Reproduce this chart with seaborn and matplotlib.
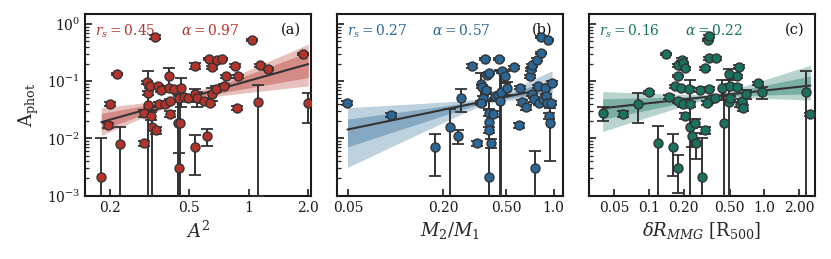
import numpy as np
import matplotlib
matplotlib.use("Agg")
import matplotlib.pyplot as plt
import seaborn as sns

# ---------------------------
# DATA
# ---------------------------
# (a) A_phot vs A^2
a_x = [0.180, 0.194, 0.200, 0.217, 0.225, 0.296, 0.297, 0.305, 0.310, 0.310,
       0.317, 0.320, 0.324, 0.337, 0.340, 0.350, 0.361, 0.354, 0.376, 0.398,
       0.398, 0.402, 0.400, 0.419, 0.439, 0.444, 0.452, 0.457, 0.444, 0.472,
       0.494, 0.535, 0.535, 0.535, 0.545, 0.597, 0.614, 0.631, 0.638, 0.656,
       0.656, 0.683, 0.690, 0.733, 0.748, 0.769, 0.857, 0.868, 0.882, 1.044,
       1.120, 1.135, 1.247, 1.880, 2.000]
a_y = [0.0021, 0.017, 0.040, 0.136, 0.0080, 0.028, 0.0083, 0.096, 0.063, 0.038,
       0.082, 0.025, 0.016, 0.59, 0.014, 0.082, 0.070, 0.040, 0.040, 0.122,
       0.076, 0.027, 0.046, 0.072, 0.019, 0.0030, 0.019, 0.076, 0.052, 0.053,
       0.052, 0.187, 0.059, 0.0070, 0.050, 0.046, 0.011, 0.244, 0.042, 0.175,
       0.061, 0.074, 0.240, 0.245, 0.084, 0.122, 0.187, 0.034, 0.122, 0.53,
       0.044, 0.190, 0.164, 0.30, 0.041]
a_err = [0.008, 0.002, 0.003, 0.005, 0.008, 0.004, 0.0008, 0.006, 0.005, 0.115,
         0.006, 0.004, 0.016, 0.05, 0.002, 0.005, 0.005, 0.003, 0.003, 0.05,
         0.005, 0.003, 0.003, 0.005, 0.04, 0.0025, 0.03, 0.04, 0.004, 0.004,
         0.004, 0.02, 0.015, 0.0047, 0.015, 0.004, 0.0035, 0.01, 0.004, 0.01,
         0.015, 0.01, 0.01, 0.01, 0.005, 0.006, 0.01, 0.003, 0.006, 0.02,
         0.043, 0.01, 0.008, 0.015, 0.022]

# (b) A_phot vs M2/M1
b_x = [0.0496, 0.093, 0.177, 0.221, 0.248, 0.261, 0.303, 0.328, 0.348, 0.355,
       0.360, 0.348, 0.371, 0.367, 0.380, 0.391, 0.388, 0.388, 0.388, 0.388,
       0.403, 0.416, 0.427, 0.442, 0.449, 0.455, 0.466, 0.470, 0.494, 0.506,
       0.565, 0.608, 0.614, 0.632, 0.665, 0.708, 0.716, 0.726, 0.735, 0.751,
       0.762, 0.787, 0.800, 0.806, 0.830, 0.828, 0.859, 0.881, 0.900, 0.923,
       0.914, 0.930, 0.946, 0.966, 0.978]
b_y = [0.042, 0.026, 0.0070, 0.0159, 0.0111, 0.051, 0.185, 0.0083, 0.091, 0.080,
       0.051, 0.042, 0.070, 0.247, 0.131, 0.140, 0.028, 0.0195, 0.0141, 0.0021,
       0.0083, 0.027, 0.055, 0.057, 0.247, 0.045, 0.064, 0.149, 0.122, 0.077,
       0.177, 0.017, 0.077, 0.043, 0.035, 0.122, 0.163, 0.189, 0.059, 0.048,
       0.0031, 0.238, 0.082, 0.042, 0.60, 0.31, 0.048, 0.077, 0.055, 0.53,
       0.042, 0.025, 0.019, 0.042, 0.095]
b_err = [0.003, 0.002, 0.0048, 0.017, 0.003, 0.022, 0.012, 0.0008, 0.05, 0.005,
         0.004, 0.004, 0.005, 0.012, 0.008, 0.008, 0.003, 0.025, 0.0015, 0.030,
         0.0015, 0.003, 0.004, 0.004, 0.012, 0.11, 0.09, 0.01, 0.03, 0.02,
         0.01, 0.0015, 0.005, 0.004, 0.004, 0.008, 0.01, 0.01, 0.004, 0.004,
         0.003, 0.012, 0.005, 0.004, 0.03, 0.015, 0.004, 0.005, 0.004, 0.025,
         0.004, 0.003, 0.015, 0.004, 0.006]

# (c) A_phot vs BCG offset
c_x = [0.0396, 0.0598, 0.080, 0.100, 0.120, 0.140, 0.149, 0.161, 0.168, 0.178,
       0.178, 0.178, 0.179, 0.188, 0.194, 0.198, 0.205, 0.221, 0.198, 0.205,
       0.225, 0.228, 0.238, 0.256, 0.253, 0.279, 0.289, 0.308, 0.305, 0.325,
       0.332, 0.332, 0.381, 0.332, 0.344, 0.319, 0.376, 0.430, 0.450, 0.490,
       0.507, 0.490, 0.500, 0.578, 0.578, 0.605, 0.617, 0.640, 0.660, 0.692,
       0.877, 0.950, 2.28, 2.51]
c_y = [0.028, 0.0272, 0.0405, 0.064, 0.0083, 0.30, 0.053, 0.0072, 0.082, 0.189,
       0.125, 0.045, 0.0031, 0.075, 0.24, 0.21, 0.17, 0.0736, 0.040, 0.025,
       0.016, 0.040, 0.011, 0.0083, 0.019, 0.0698, 0.0021, 0.0141, 0.17, 0.53,
       0.61, 0.25, 0.25, 0.074, 0.048, 0.042, 0.051, 0.077, 0.019, 0.134,
       0.084, 0.044, 0.051, 0.122, 0.080, 0.18, 0.040, 0.045, 0.034, 0.059,
       0.093, 0.0644, 0.0644, 0.0264]
c_err = [0.008, 0.003, 0.022, 0.004, 0.0085, 0.015, 0.004, 0.005, 0.005, 0.01,
         0.006, 0.004, 0.002, 0.005, 0.012, 0.01, 0.01, 0.005, 0.004, 0.003,
         0.088, 0.004, 0.004, 0.004, 0.003, 0.005, 0.008, 0.002, 0.01, 0.025,
         0.03, 0.012, 0.012, 0.005, 0.004, 0.004, 0.004, 0.03, 0.05, 0.03,
         0.006, 0.06, 0.004, 0.007, 0.005, 0.01, 0.004, 0.004, 0.004, 0.01,
         0.006, 0.015, 0.089, 0.002]

# power-law fits: slope, log10 of A_phot at x=1, and band shape in dex
fit_alpha = [0.97, 0.57, 0.22]
fit_rs = [0.45, 0.27, 0.16]
fit_lognorm = [-0.992, -1.10, -1.163]
band_pivot = [-0.33, -0.40, -0.44]
band_outer = [(0.05, 0.55, 0.60), (0.05, 0.73, 0.42), (0.04, 0.42, 0.30)]
band_inner = [(0.025, 0.33, 0.37), (0.025, 0.335, 0.20), (0.02, 0.20, 0.17)]

panel_tags = ["(a)", "(b)", "(c)"]
x_labels = [r"$A^2$", r"$M_2/M_1$", r"$\delta R_{MMG}$ [R$_{500}$]"]
x_ticks = [[0.2, 0.5, 1, 2], [0.05, 0.2, 0.5, 1.0], [0.05, 0.1, 0.2, 0.5, 1.0, 2.0]]
x_ticklabels = [["0.2", "0.5", "1", "2.0"], ["0.05", "0.20", "0.50", "1.0"],
                ["0.05", "0.1", "0.20", "0.50", "1.0", "2.00"]]
x_lims = [(0.149, 2.07), (0.0425, 1.15), (0.030, 2.75)]
colors = ["#b5322a", "#2a6796", "#18735f"]

# ---------------------------
# STYLE
# ---------------------------
sns.set_theme(style="ticks")
plt.rcParams["font.family"] = ["DejaVu Serif"]
plt.rcParams["mathtext.fontset"] = "dejavuserif"
plt.rcParams["axes.linewidth"] = 1.5
plt.rcParams["axes.edgecolor"] = "#1a1a1a"


def band(lx, line, p, w0, d_hi, d_lo):
    dx = lx - p
    d_up = np.where(dx > 0, d_hi, d_lo)
    d_dn = np.where(dx > 0, d_lo, d_hi)
    up = line + np.sqrt(w0 ** 2 + (d_up * dx) ** 2)
    dn = line - np.sqrt(w0 ** 2 + (d_dn * dx) ** 2)
    return 10 ** dn, 10 ** up


fig, axes = plt.subplots(1, 3, figsize=(8.31, 2.59), dpi=100, sharey=True)
fig.subplots_adjust(left=0.1023, right=0.9807, top=0.9448, bottom=0.2444, wspace=0.113)

datasets = [(a_x, a_y, a_err), (b_x, b_y, b_err), (c_x, c_y, c_err)]

for i, ax in enumerate(axes):
    x, y, err = (np.asarray(v, dtype=float) for v in datasets[i])
    col = colors[i]

    # fit line and confidence bands
    lx = np.linspace(np.log10(x.min()), np.log10(x.max()), 200)
    line = fit_lognorm[i] + fit_alpha[i] * lx
    lo, hi = band(lx, line, band_pivot[i], *band_outer[i])
    ax.fill_between(10 ** lx, lo, hi, color=col, alpha=0.3, lw=0, zorder=1)
    lo, hi = band(lx, line, band_pivot[i], *band_inner[i])
    ax.fill_between(10 ** lx, lo, hi, color=col, alpha=0.38, lw=0, zorder=1)
    sns.lineplot(x=10 ** lx, y=10 ** line, ax=ax, color="#333333", lw=1.5, zorder=2)

    # error bars and points
    ax.errorbar(x, y, yerr=err, fmt="none", ecolor="#333333", elinewidth=1.4,
                capsize=4.2, capthick=1.3, zorder=3)
    sns.scatterplot(x=x, y=y, ax=ax, color=col, edgecolor="#333333", linewidth=1.0,
                    s=42, zorder=4)

    ax.set_xscale("log")
    ax.set_yscale("log")
    ax.set_xlim(*x_lims[i])
    ax.set_ylim(1e-3, 1.48)
    ax.set_xticks(x_ticks[i])
    ax.set_xticklabels(x_ticklabels[i])
    ax.xaxis.set_minor_locator(matplotlib.ticker.NullLocator())
    ax.tick_params(which="major", direction="in", length=5, width=1.2, labelsize=10,
                   colors="#1a1a1a")
    ax.tick_params(which="minor", direction="in", length=3, width=0.9)
    ax.set_xlabel(x_labels[i], fontsize=13, labelpad=4)

    ax.text(0.045, 0.955, r"$r_s = %.2f\qquad\alpha = %.2f$" % (fit_rs[i], fit_alpha[i]),
            transform=ax.transAxes, color=col, fontsize=10, va="top", ha="left")
    ax.text(0.955, 0.915, panel_tags[i], transform=ax.transAxes, fontsize=10.5,
            va="center", ha="right", color="#111111")

axes[0].set_ylabel(r"$\mathrm{A_{phot}}$", fontsize=13, labelpad=4)

plt.savefig("out.png", dpi=100)
